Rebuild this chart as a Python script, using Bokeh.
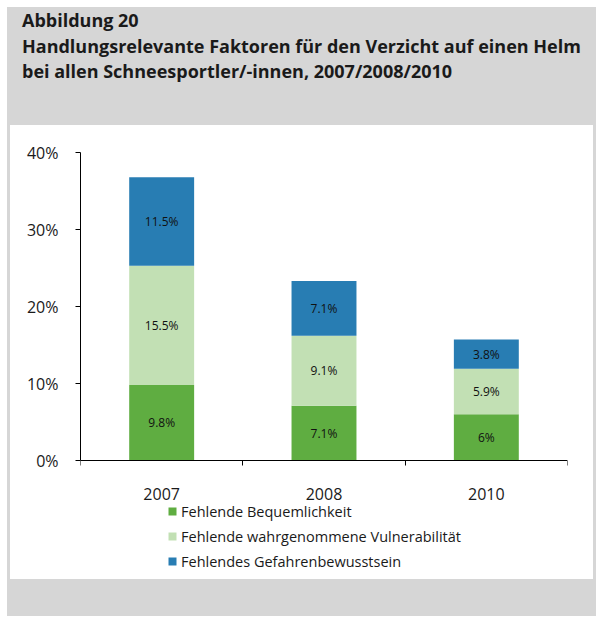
import numpy as np
from bokeh.plotting import figure
from bokeh.models import (Range1d, FixedTicker, PrintfTickFormatter, Legend, LegendItem,
                          ColumnDataSource, Div)
from bokeh.layouts import column
from bokeh.embed import file_html
from bokeh.resources import INLINE
from bokeh.core.properties import value

# ---- data ----
years = ["2007", "2008", "2010"]
bequemlichkeit = [9.8, 7.1, 6.0]
vulnerabilitaet = [15.5, 9.1, 5.9]
gefahrenbewusstsein = [11.5, 7.1, 3.8]
series_names = ["Fehlende Bequemlichkeit",
                "Fehlende wahrgenommene Vulnerabilität",
                "Fehlendes Gefahrenbewusstsein"]
y_ticks = [0, 10, 20, 30, 40]
title_lines = ["Abbildung 20",
               "Handlungsrelevante Faktoren für den Verzicht auf einen Helm",
               "bei allen Schneesportler/-innen, 2007/2008/2010"]

# ---- styles ----
colors = ["#5fad41", "#c2e0b4", "#287db3"]
GRAY = "#d6d6d6"
FONT = "Open Sans"
TXT = "#1a1a1a"

# ---- header ----
header_html = ('<div style="font-family:\'Open Sans\';font-weight:bold;font-size:18px;'
               'line-height:25.5px;color:%s;padding:1px 0 0 15px;white-space:nowrap;">%s</div>'
               % (TXT, "<br>".join(title_lines)))
header = Div(text=header_html, width=589, height=118, margin=0,
             styles={"background-color": GRAY})

# ---- chart ----
n = len(years)
xpos = np.arange(n) + 0.5
src = ColumnDataSource(dict(x=xpos, b=bequemlichkeit, v=vulnerabilitaet, g=gefahrenbewusstsein))

Y_MAX = 40
PLOT_PX = 308          # pixel height of 0..40
EXTRA_PX = 119         # room under the zero line for labels and legend
y_start = -Y_MAX * EXTRA_PX / PLOT_PX

p = figure(width=583, height=454, x_range=Range1d(0, n), y_range=Range1d(y_start, Y_MAX),
           output_backend="svg", toolbar_location=None,
           min_border_left=70, min_border_right=26, min_border_top=27, min_border_bottom=0,
           outline_line_color=None, border_fill_color="white", background_fill_color="white")
p.outline_line_alpha = 0
p.margin = (0, 3, 0, 3)
p.styles = {"background-color": "white"}
p.grid.visible = False

rs = p.vbar_stack(["b", "v", "g"], x="x", width=0.4, fill_color=colors, line_color=None,
                  source=src)

vals = np.array([bequemlichkeit, vulnerabilitaet, gefahrenbewusstsein])
cum = vals.cumsum(axis=0)
mids = cum - vals / 2
lx, ly, lt = [], [], []
for i in range(vals.shape[0]):
    for j in range(n):
        lx.append(xpos[j]); ly.append(mids[i, j]); lt.append(f"{vals[i, j]:g}%")
p.text(x=lx, y=ly, text=lt, text_font=value(FONT), text_font_size="12px", text_color="#111111",
       text_align="center", text_baseline="middle")

# axes
xa = p.xaxis[0]
xa.fixed_location = 0
xa.ticker = FixedTicker(ticks=list(xpos), minor_ticks=list(np.arange(n + 1)))
xa.major_label_overrides = {float(xpos[j]): years[j] for j in range(n)}
xa.major_tick_line_color = None
xa.major_tick_out = 0
xa.minor_tick_in = 0
xa.minor_tick_out = 5
xa.minor_tick_line_color = "black"
xa.axis_line_color = "black"
xa.major_label_standoff = 22
xa.major_label_text_font = FONT
xa.major_label_text_font_size = "16px"
xa.major_label_text_color = TXT

ya = p.yaxis[0]
ya.bounds = (0, Y_MAX)
ya.ticker = FixedTicker(ticks=y_ticks)
ya.formatter = PrintfTickFormatter(format="%d%%")
ya.major_tick_in = 0
ya.major_tick_out = 5
ya.minor_tick_line_color = None
ya.axis_line_color = "black"
ya.major_tick_line_color = "black"
ya.major_label_standoff = 17
ya.major_label_text_font = FONT
ya.major_label_text_font_size = "16px"
ya.major_label_text_color = TXT

legend = Legend(items=[LegendItem(label=series_names[i], renderers=[rs[i]]) for i in range(3)],
                location=(87, 8), orientation="vertical", glyph_width=10, glyph_height=10,
                label_standoff=4, label_text_font=FONT, label_text_font_size="14.5px",
                label_text_color=TXT, label_height=20, spacing=5, padding=0, margin=0,
                border_line_color=None, background_fill_alpha=0)
p.add_layout(legend)

# ---- footer ----
footer = Div(text="", width=589, height=37, margin=0, styles={"background-color": GRAY})

layout = column(header, p, footer, spacing=0, margin=(7, 0, 0, 7),
                styles={"background-color": GRAY})

open("out.html", "w").write(file_html(layout, INLINE))
